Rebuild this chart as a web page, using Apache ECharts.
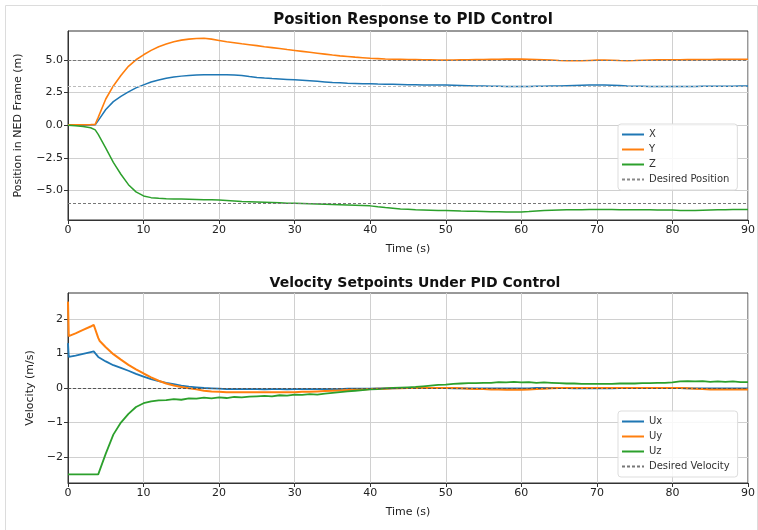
<!DOCTYPE html>
<html>
<head>
<meta charset="utf-8">
<script src="https://cdn.jsdelivr.net/npm/echarts@6/dist/echarts.min.js"></script>
<style>
  html, body { margin: 0; padding: 0; background: #fff; }
  #chart { width: 758px; height: 530px; }
</style>
</head>
<body>
<div id="chart"></div>
<script>
// position response (m), time in seconds
var posTime = [0, 1, 2, 3, 3.6,
  4, 5, 6, 7, 8, 9, 10, 11, 12, 13, 14, 15, 16, 17, 18, 19, 20, 21, 22, 23,
  24, 25, 26, 27, 28, 29, 30, 31, 32, 33, 34, 35, 36, 37, 38, 39, 40, 41, 42, 43,
  44, 45, 46, 47, 48, 49, 50, 51, 52, 53, 54, 55, 56, 57, 58, 59, 60, 61, 62, 63,
  64, 65, 66, 67, 68, 69, 70, 71, 72, 73, 74, 75, 76, 77, 78, 79, 80, 81, 82, 83,
  84, 85, 86, 87, 88, 89, 90];
var posX = [0.0, 0.0, 0.0, 0.01, 0.03,
  0.35, 1.2, 1.8, 2.2, 2.55, 2.85, 3.08, 3.3, 3.46, 3.58,
  3.68, 3.75, 3.8, 3.83, 3.85, 3.86, 3.86, 3.85, 3.84, 3.8,
  3.72, 3.65, 3.6, 3.56, 3.53, 3.5, 3.47, 3.43, 3.39, 3.35,
  3.31, 3.27, 3.24, 3.21, 3.19, 3.17, 3.16, 3.14, 3.13, 3.12,
  3.11, 3.1, 3.09, 3.08, 3.08, 3.08, 3.07, 3.06, 3.04, 3.02,
  3.0, 2.99, 2.98, 2.97, 2.96, 2.96, 2.96, 2.96, 2.97, 2.98,
  2.99, 3.0, 3.02, 3.04, 3.06, 3.07, 3.08, 3.08, 3.06, 3.03,
  3.0, 2.98, 2.97, 2.96, 2.96, 2.96, 2.96, 2.96, 2.96, 2.96,
  2.97, 2.97, 2.97, 2.98, 2.98, 2.99, 3.0];
var posY = [0.02, 0.02, 0.03, 0.04, 0.06,
  0.6, 2.0, 3.0, 3.8, 4.5, 5.0, 5.38, 5.72, 6.0, 6.2,
  6.38, 6.5, 6.58, 6.63, 6.64, 6.58, 6.48, 6.38, 6.3, 6.22,
  6.15, 6.08, 6.0, 5.93, 5.86, 5.78, 5.71, 5.64, 5.57, 5.5,
  5.43, 5.36, 5.3, 5.25, 5.2, 5.16, 5.12, 5.09, 5.06, 5.04,
  5.03, 5.02, 5.01, 5.0, 4.99, 4.98, 4.97, 4.98, 4.99, 5.0,
  5.01, 5.02, 5.03, 5.04, 5.05, 5.05, 5.05, 5.04, 5.02, 5.0,
  4.98, 4.95, 4.93, 4.92, 4.93, 4.95, 4.97, 4.97, 4.96, 4.94,
  4.93, 4.94, 4.96, 4.98, 4.99, 5.0, 5.0, 5.0, 5.01, 5.01,
  5.02, 5.02, 5.03, 5.03, 5.04, 5.04, 5.04];
var posZ = [0.0, -0.05, -0.1, -0.2, -0.36,
  -0.7, -1.75, -2.85, -3.75, -4.55, -5.1, -5.41, -5.54, -5.59, -5.62,
  -5.64, -5.65, -5.66, -5.68, -5.7, -5.71, -5.72, -5.76, -5.8, -5.84,
  -5.86, -5.88, -5.9, -5.92, -5.94, -5.96, -5.97, -5.99, -6.01, -6.03,
  -6.05, -6.07, -6.09, -6.11, -6.13, -6.15, -6.17, -6.24, -6.3, -6.35,
  -6.4, -6.43, -6.46, -6.48, -6.5, -6.52, -6.53, -6.55, -6.57, -6.58,
  -6.59, -6.6, -6.61, -6.62, -6.63, -6.63, -6.63, -6.6, -6.56, -6.52,
  -6.5, -6.48, -6.47, -6.46, -6.46, -6.45, -6.45, -6.45, -6.45, -6.46,
  -6.46, -6.47, -6.47, -6.47, -6.48, -6.48, -6.48, -6.52, -6.53, -6.52,
  -6.5, -6.48, -6.47, -6.46, -6.45, -6.45, -6.45];
var desiredPos = [5, 3, -6];

// velocity setpoints (m/s)
var velTime = [0, 0.1, 1, 2, 3, 3.4, 4, 4.2,
  5, 6, 7, 8, 9, 10, 11, 12, 13, 14, 15, 16, 17, 18, 19, 20, 21, 22, 23, 24,
  25, 26, 27, 28, 29, 30, 31, 32, 33, 34, 35, 36, 37, 38, 39, 40, 41, 42, 43, 44,
  45, 46, 47, 48, 49, 50, 51, 52, 53, 54, 55, 56, 57, 58, 59, 60, 61, 62, 63, 64,
  65, 66, 67, 68, 69, 70, 71, 72, 73, 74, 75, 76, 77, 78, 79, 80, 81, 82, 83, 84,
  85, 86, 87, 88, 89, 90];
var velUx = [1.3, 0.9, 0.94, 0.99, 1.04, 1.06, 0.9, 0.86,
  0.77, 0.66, 0.58, 0.5, 0.41, 0.33, 0.26, 0.2, 0.15, 0.11,
  0.07, 0.04, 0.02, 0.0, -0.01, -0.02, -0.03, -0.03, -0.03, -0.03,
  -0.03, -0.04, -0.03, -0.03, -0.04, -0.03, -0.03, -0.03, -0.03, -0.03,
  -0.03, -0.03, -0.02, -0.02, -0.02, -0.02, -0.01, -0.01, -0.01, 0,
  0, 0, 0, 0, 0, 0, -0.01, -0.01, -0.01, -0.01,
  -0.01, -0.01, -0.01, -0.01, -0.01, -0.01, -0.01, 0, 0, 0,
  0, 0, -0.01, -0.01, -0.01, -0.01, -0.01, -0.01, 0, 0,
  0, 0, 0, 0, 0, 0, 0, -0.01, -0.01, -0.01,
  -0.01, -0.01, -0.01, -0.01, -0.01, -0.01];
var velUy = [2.5, 1.5, 1.58, 1.68, 1.78, 1.83, 1.45, 1.36,
  1.18, 0.98, 0.82, 0.67, 0.54, 0.42, 0.31, 0.21, 0.13, 0.07,
  0.03, -0.01, -0.04, -0.08, -0.1, -0.11, -0.12, -0.12, -0.12, -0.12,
  -0.12, -0.12, -0.12, -0.12, -0.12, -0.12, -0.11, -0.11, -0.1, -0.09,
  -0.08, -0.07, -0.06, -0.05, -0.04, -0.03, -0.02, -0.02, -0.01, -0.01,
  0, 0, 0, 0, 0, 0, 0, -0.01, -0.02, -0.03,
  -0.03, -0.04, -0.04, -0.05, -0.05, -0.05, -0.04, -0.03, -0.02, -0.01,
  0, 0, 0, 0, 0, 0, 0, 0, 0, 0,
  0, 0, 0, 0, 0, 0, 0, -0.01, -0.02, -0.03,
  -0.04, -0.04, -0.04, -0.04, -0.04, -0.04];
var velUz = [-2.5, -2.5, -2.5, -2.5, -2.5, -2.5, -2.5, -2.5,
  -1.9, -1.35, -1.0, -0.75, -0.55, -0.44, -0.39, -0.36, -0.35, -0.32,
  -0.34, -0.3, -0.31, -0.28, -0.3, -0.27, -0.29, -0.26, -0.27, -0.25,
  -0.24, -0.23, -0.24, -0.21, -0.22, -0.19, -0.2, -0.18, -0.19, -0.16,
  -0.14, -0.12, -0.1, -0.08, -0.06, -0.04, -0.03, -0.01, 0.0, 0.01,
  0.02, 0.03, 0.05, 0.07, 0.09, 0.1, 0.12, 0.13, 0.14, 0.14,
  0.15, 0.15, 0.17, 0.16, 0.18, 0.16, 0.17, 0.15, 0.16, 0.15,
  0.14, 0.13, 0.13, 0.12, 0.12, 0.12, 0.12, 0.12, 0.13, 0.13,
  0.13, 0.14, 0.14, 0.15, 0.15, 0.16, 0.19, 0.2, 0.19, 0.2,
  0.18, 0.19, 0.18, 0.19, 0.17, 0.17];
var desiredVel = [0];

var posTicks = [-5, -2.5, 0, 2.5, 5];
var velTicks = [-2, -1, 0, 1, 2];

var FONT = 'DejaVu Sans';
var blue = '#1f77b4', orange = '#ff7f0e', green = '#2ca02c';
// legend glyphs: a plain stroke and a dashed stroke
var SOLID = 'path://M0,0h22v2h-22z';
var DASHED = 'path://M0,0h3v2h-3z M5,0h3v2h-3z M10,0h3v2h-3z M15,0h3v2h-3z M20,0h2v2h-2z';

function pairs(t, v) {
    return t.map(function (x, i) { return [x, v[i]]; });
}
function minus(s) {
    return String(s).replace('-', '\u2212');
}

function xAxisFor(idx) {
    return {
        type: 'value', gridIndex: idx, min: 0, max: 90, interval: 10,
        name: 'Time (s)', nameLocation: 'middle', nameGap: 24,
        nameTextStyle: { fontFamily: FONT, fontSize: 11, color: '#222' },
        axisLine: { show: true, onZero: false, lineStyle: { color: '#333', width: 1 } },
        axisTick: { show: true, length: 4, lineStyle: { color: '#333' } },
        axisLabel: { fontFamily: FONT, fontSize: 11, color: '#222', margin: 5 },
        splitLine: { show: true, lineStyle: { color: '#d0d0d0', width: 1 } }
    };
}

function yAxisFor(idx, min, max, ticks, name, gap, fmt) {
    return {
        type: 'value', gridIndex: idx, min: min, max: max,
        name: name, nameLocation: 'middle', nameGap: gap,
        nameTextStyle: { fontFamily: FONT, fontSize: 11, color: '#222' },
        axisLine: { show: true, onZero: false, lineStyle: { color: '#333', width: 1 } },
        axisTick: { show: true, length: 4, customValues: ticks, lineStyle: { color: '#333' } },
        axisLabel: { fontFamily: FONT, fontSize: 11, color: '#222', margin: 5, customValues: ticks, formatter: fmt },
        splitLine: { show: true, lineStyle: { color: '#d0d0d0', width: 1 } }
    };
}

function lineSeries(name, t, v, color, width, xi) {
    return {
        name: name, type: 'line', xAxisIndex: xi, yAxisIndex: xi,
        data: pairs(t, v), showSymbol: false, symbol: 'none',
        lineStyle: { color: color, width: width }, itemStyle: { color: color },
        z: 3
    };
}

function legendFor(top, names) {
    return {
        orient: 'vertical', left: 618, top: top, width: 118,
        data: names.map(function (n, i) { return { name: n, icon: i === 3 ? DASHED : SOLID }; }),
        itemWidth: 22, itemHeight: 2, itemGap: 4,
        padding: [5, 8, 5, 4],
        backgroundColor: 'rgba(255,255,255,0.85)', borderColor: '#ddd', borderWidth: 1, borderRadius: 3,
        textStyle: { fontFamily: FONT, fontSize: 10, color: '#333', lineHeight: 11 }
    };
}

var chart = echarts.init(document.getElementById('chart'));

var option = {
    animation: false,
    backgroundColor: '#fff',
    title: [
        { text: 'Position Response to PID Control', left: 408, top: 8, textAlign: 'center',
          textStyle: { fontFamily: FONT, fontSize: 15, fontWeight: 'bold', color: '#111' } },
        { text: 'Velocity Setpoints Under PID Control', left: 410, top: 271, textAlign: 'center',
          textStyle: { fontFamily: FONT, fontSize: 14, fontWeight: 'bold', color: '#111' } }
    ],
    graphic: [{
        type: 'rect', left: 3, top: 3, silent: true, z: -10,
        shape: { width: 752, height: 525 },
        style: { fill: 'none', stroke: '#dcdcdc', lineWidth: 1 }
    }],
    grid: [
        { left: 68, top: 31, width: 680, height: 189, show: true, borderColor: '#333', borderWidth: 1, backgroundColor: 'transparent' },
        { left: 68, top: 293, width: 680, height: 190, show: true, borderColor: '#333', borderWidth: 1, backgroundColor: 'transparent' }
    ],
    legend: [
        legendFor(124, ['X', 'Y', 'Z', 'Desired Position']),
        legendFor(411, ['Ux', 'Uy', 'Uz', 'Desired Velocity'])
    ],
    xAxis: [xAxisFor(0), xAxisFor(1)],
    yAxis: [
        yAxisFor(0, -7.25, 7.2, posTicks, 'Position in NED Frame (m)', 44,
            function (v) { return minus(v.toFixed(1)); }),
        yAxisFor(1, -2.75, 2.75, velTicks, 'Velocity (m/s)', 30,
            function (v) { return minus(v.toFixed(0)); })
    ],
    series: [
        lineSeries('X', posTime, posX, blue, 1.5, 0),
        lineSeries('Y', posTime, posY, orange, 1.6, 0),
        lineSeries('Z', posTime, posZ, green, 1.5, 0),
        {
            name: 'Desired Position', type: 'line', xAxisIndex: 0, yAxisIndex: 0,
            data: [], symbol: 'none',
            lineStyle: { color: '#777', width: 1, type: [3, 2] }, itemStyle: { color: '#888' },
            markLine: {
                silent: true, symbol: 'none', label: { show: false },
                data: desiredPos.map(function (v) {
                    return { yAxis: v, lineStyle: { color: v === 3 ? '#bbb' : '#777', width: 1, type: [3, 2] } };
                })
            }
        },
        lineSeries('Ux', velTime, velUx, blue, 1.8, 1),
        lineSeries('Uy', velTime, velUy, orange, 2, 1),
        lineSeries('Uz', velTime, velUz, green, 1.8, 1),
        {
            name: 'Desired Velocity', type: 'line', xAxisIndex: 1, yAxisIndex: 1,
            data: [], symbol: 'none',
            lineStyle: { color: '#555', width: 1, type: [3, 2] }, itemStyle: { color: '#777' },
            markLine: {
                silent: true, symbol: 'none', label: { show: false }, z: 5,
                data: desiredVel.map(function (v) {
                    return { yAxis: v, lineStyle: { color: '#555', width: 1.2, type: [3, 2] } };
                })
            }
        }
    ]
};

chart.setOption(option);

window.addEventListener('resize', function () {
    chart.resize();
});
</script>
</body>
</html>
